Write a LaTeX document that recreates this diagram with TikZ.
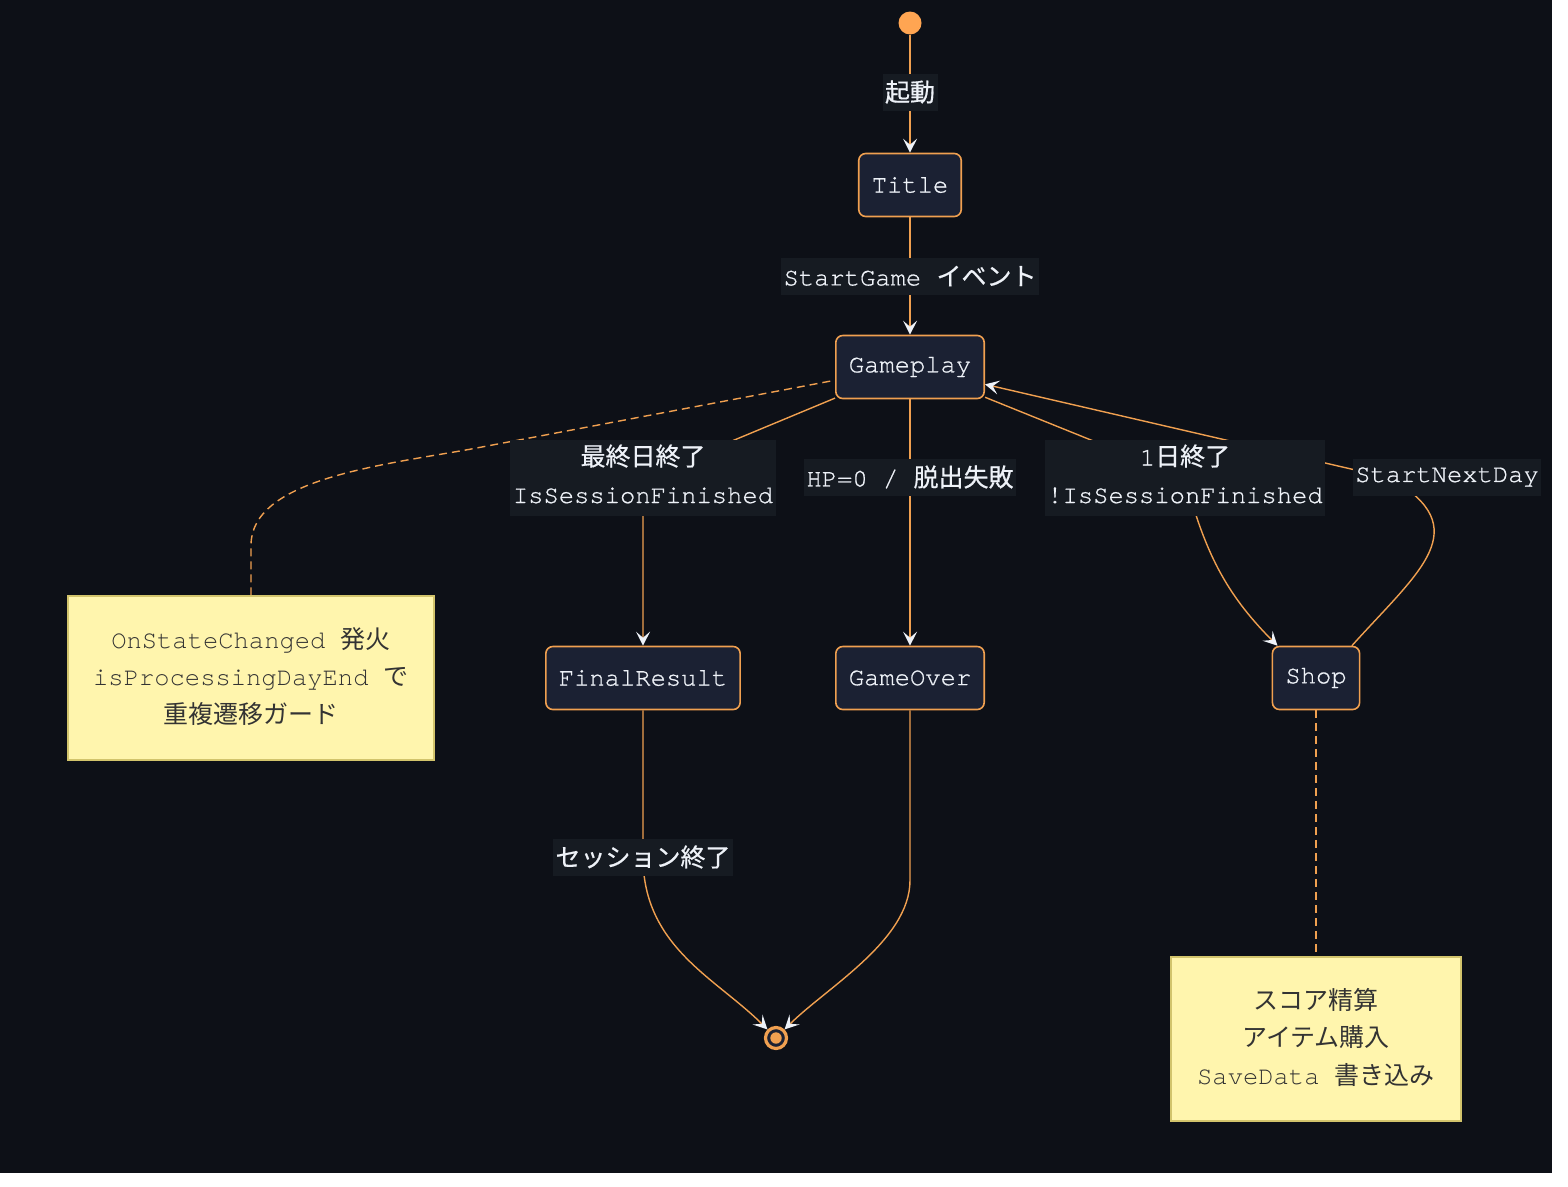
\documentclass[tikz,border=0pt]{standalone}
\usepackage{fontspec}
\setmonofont{TeX Gyre Cursor}
\newfontfamily\codebright{TeX Gyre Cursor}[FakeBold=0.7]
\newfontfamily\cjk{Noto Sans CJK JP}[Scale=0.98]
\newfontfamily\cjkbright{Noto Sans CJK JP}[Scale=0.98, FakeBold=0.6]
\usetikzlibrary{arrows.meta}
\definecolor{bgdark}{HTML}{0D1017}
\definecolor{lblbg}{HTML}{161B22}
\definecolor{statefill}{HTML}{1B2133}
\definecolor{lineorange}{HTML}{F0A050}
\definecolor{dotorange}{HTML}{FFA552}
\definecolor{textlight}{HTML}{EEF2F8}
\definecolor{notefill}{HTML}{FFF5AD}
\definecolor{notedraw}{HTML}{D2C46C}
\definecolor{notetext}{HTML}{333333}
\let\jpfont\cjk
\newcommand{\jp}[1]{{\jpfont #1}}
\pgfdeclarelayer{back}
\pgfdeclarelayer{links}
\pgfsetlayers{back,links,main}

\begin{document}
\begin{tikzpicture}[x=1pt, y=1pt,
    every node/.style={font=\fontsize{25.5}{37.5}\selectfont\ttfamily},
    dark/.style={font=\fontsize{25.5}{37.5}\selectfont\codebright\let\jpfont\cjkbright},
    state/.style={dark, draw=lineorange, line width=1.6pt, fill=statefill, rounded corners=7pt,
        text=textlight, minimum height=63pt, inner xsep=13pt},
    lbl/.style={dark, fill=lblbg, text=textlight, inner xsep=2.5pt, inner ysep=0pt,
        minimum height=37pt, align=center},
    twolines/.style={text height=63pt, text depth=13pt, minimum height=0pt},
    note/.style={draw=notedraw, line width=1.5pt, fill=notefill, text=notetext,
        inner ysep=0pt, text height=127pt, text depth=37pt, align=center},
    trans/.style={draw=lineorange, line width=1.4pt,
        -{Stealth[length=14pt, width=14pt, inset=6pt, color=textlight]}},
    notelink/.style={draw=lineorange, line width=1.4pt, dash pattern=on 8pt off 5pt}]
    \useasboundingbox (0,0) rectangle (1568,-1186);
    \begin{pgfonlayer}{back}
        \fill[white] (0,0) rectangle (1568,-1186);
        \fill[bgdark] (0,0) rectangle (1552,-1173);
    \end{pgfonlayer}

    % Start and end points
    \node[circle, fill=dotorange, minimum size=23pt, inner sep=0pt] (start) at (910,-23) {};
    \node[circle, draw=lineorange, line width=3.2pt, fill=statefill, minimum size=21pt, inner sep=0pt] (endstate) at (776,-1038) {};
    \fill[lineorange] (endstate.center) circle (5.7pt);

    % States
    \node[state] (title) at (910,-185) {Title};
    \node[state] (gameplay) at (910,-367) {Gameplay};
    \node[state] (finalresult) at (643,-678) {FinalResult};
    \node[state] (gameover) at (910,-678) {GameOver};
    \node[state] (shop) at (1316,-678) {Shop};

    % Notes
    \node[note, minimum width=366pt] (note1) at (251,-678)
        {OnStateChanged \jp{発火}\\isProcessingDayEnd \jp{で}\\\jp{重複遷移ガード}};
    \node[note, minimum width=290pt] (note2) at (1316,-1039)
        {\jp{スコア精算}\\\jp{アイテム購入}\\SaveData \jp{書き込み}};

    % Transition labels
    \node[lbl] (lblStart) at (910,-92) {\jp{起動}};
    \node[lbl] (lblGame) at (910,-276) {StartGame \jp{イベント}};
    \node[lbl, twolines] (lblFinal) at (643,-478) {\jp{最終日終了}\\IsSessionFinished};
    \node[lbl] (lblOver) at (910,-477) {HP=0 / \jp{脱出失敗}};
    \node[lbl, twolines] (lblDay) at (1185,-478) {1\jp{日終了}\\!IsSessionFinished};
    \node[lbl] (lblNext) at (1447,-477) {StartNextDay};
    \node[lbl] (lblEnd) at (643,-857) {\jp{セッション終了}};
    \coordinate (nextMid) at (1390,-478);

    % Transitions (under the labels)
    \begin{pgfonlayer}{links}
        \draw[trans] (start) -- (title);
        \draw[trans] (title) -- (gameplay);
        \draw[trans] (gameplay) -- (lblFinal.center) -- (finalresult);
        \draw[trans] (gameplay) -- (gameover);
        \draw[trans] (gameplay) -- (lblDay.center) to[out=-75, in=135] (shop.140);
        \draw[trans] (shop.42) to[out=48, in=-30, looseness=1.5] (nextMid) -- (gameplay.-13);
        \draw[trans] (finalresult) -- (lblEnd.center) .. controls +(0,-90) and +(-60,60) .. (endstate);
        \draw[trans] (gameover.south) -- ++(0,-170) .. controls +(0,-60) and +(50,50) .. (endstate);

        % Note links
        \draw[notelink] (note1.north) -- ++(0,50) to[out=90, in=-170, out looseness=0.7] ++(219,96) -- (gameplay.190);
        \draw[notelink] (shop) -- (note2);
    \end{pgfonlayer}
\end{tikzpicture}
\end{document}
